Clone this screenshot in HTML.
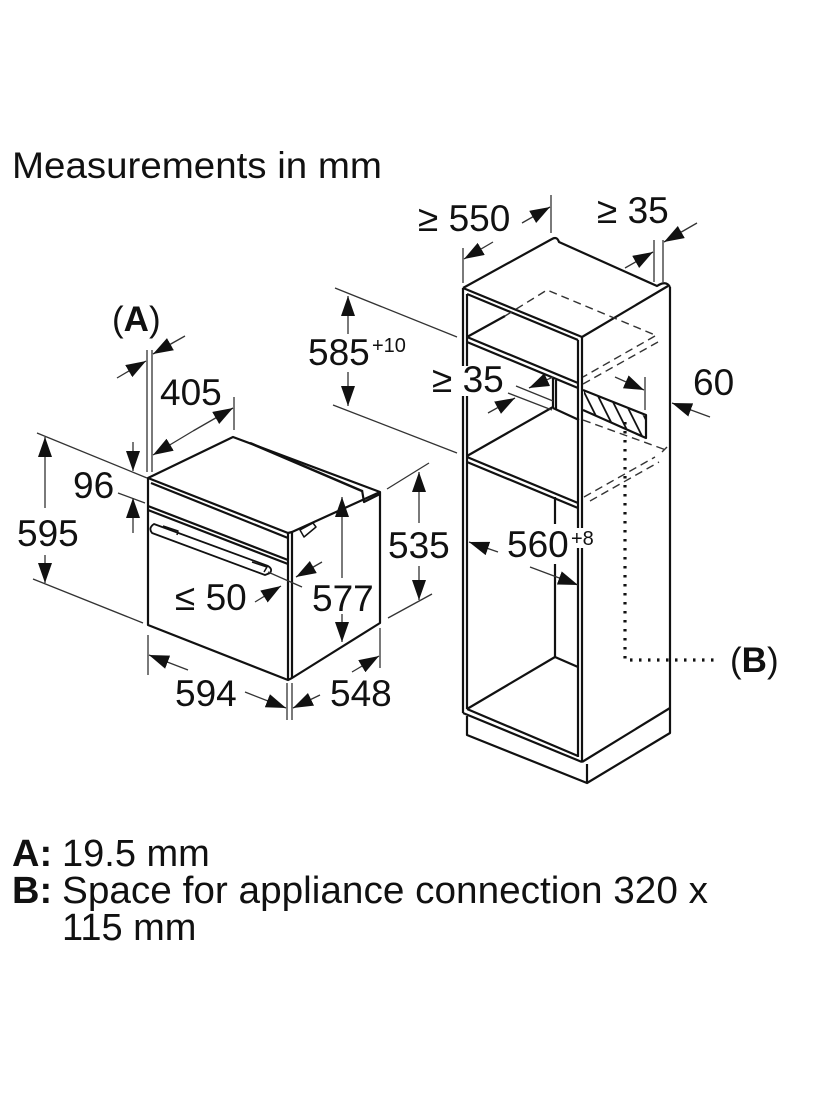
<!DOCTYPE html>
<html><head><meta charset="utf-8"><style>
html,body{margin:0;padding:0;background:#fff;}
svg{display:block;}
text{font-family:"Liberation Sans",Arial,sans-serif;fill:#111;}
</style></head><body>
<svg width="825" height="1100" viewBox="0 0 825 1100" xmlns="http://www.w3.org/2000/svg">
<defs>
<marker id="a" markerUnits="userSpaceOnUse" markerWidth="22" markerHeight="16" refX="20" refY="7" orient="auto"><path d="M0,0 L20,7 L0,14 z" fill="#111"/></marker>
<clipPath id="hc"><polygon points="584,391 645,416 645,437 584,411"/></clipPath>
</defs>
<rect width="825" height="1100" fill="#fff"/>

<!-- Title -->
<text x="12" y="178" font-size="37" textLength="370" lengthAdjust="spacingAndGlyphs">Measurements in mm</text>

<!-- ============ OVEN ============ -->
<g stroke="#111" stroke-width="2.2" fill="none" stroke-linejoin="round">
  <path d="M148,478 L233,437 L380,492 L380,623 L292,678 L288,680 L148,625 Z" fill="#fff"/>
  <path d="M148,478 L288,533 L292,532 L380,492"/>
  <line x1="288" y1="533" x2="288" y2="680"/>
  <line x1="292" y1="532" x2="292" y2="678"/>
  <line x1="151" y1="483" x2="288" y2="538"/>
  <line x1="148" y1="506" x2="288" y2="560"/>
  <line x1="148" y1="510" x2="288" y2="564"/>
  <line x1="250" y1="443" x2="362" y2="491" stroke-width="2.5"/>
  <path d="M362,490 L364,502 L380,494"/>
  <!-- handle -->
  <path d="M154,524 L268,566 Q273,569 270,573 L265,575 L152,533 Q148,528 154,524 Z" stroke-width="1.8"/>
  <path d="M163,526 L178,531 L177,535 M252,562 L267,567 L264,572" stroke-width="1.5"/>
  <!-- bracket -->
  <path d="M300,530 L313,523 L316,527 L304,537 Z" stroke-width="1.5"/>
</g>

<!-- oven dimension / extension lines -->
<g stroke="#333" stroke-width="1.3" fill="none">
  <line x1="37" y1="433" x2="147" y2="478"/>
  <line x1="33" y1="579" x2="143" y2="623"/>
  <line x1="118" y1="493" x2="145" y2="503"/>
  <line x1="147" y1="350" x2="147" y2="472"/>
  <line x1="152" y1="350" x2="152" y2="472"/>
  <line x1="234" y1="397" x2="234" y2="430"/>
  <line x1="148" y1="635" x2="148" y2="675"/>
  <line x1="287" y1="683" x2="287" y2="720"/>
  <line x1="292" y1="683" x2="292" y2="720"/>
  <line x1="380" y1="628" x2="380" y2="668"/>
  <line x1="268" y1="572" x2="302" y2="587"/>

  <line x1="45" y1="508" x2="45" y2="437" marker-end="url(#a)"/>
  <line x1="45" y1="555" x2="45" y2="583" marker-end="url(#a)"/>
  <line x1="133" y1="442" x2="133" y2="471" marker-end="url(#a)"/>
  <line x1="133" y1="533" x2="133" y2="498" marker-end="url(#a)"/>
  <line x1="117" y1="378" x2="146" y2="361" marker-end="url(#a)"/>
  <line x1="185" y1="336" x2="153" y2="354" marker-end="url(#a)"/>
  <line x1="193" y1="431" x2="153" y2="455" marker-end="url(#a)"/>
  <line x1="193" y1="431" x2="233" y2="408" marker-end="url(#a)"/>
  <line x1="188" y1="670" x2="149" y2="655" marker-end="url(#a)"/>
  <line x1="245" y1="692" x2="286" y2="708" marker-end="url(#a)"/>
  <line x1="320" y1="695" x2="293" y2="708" marker-end="url(#a)"/>
  <line x1="352" y1="672" x2="379" y2="656" marker-end="url(#a)"/>
  <line x1="342" y1="578" x2="342" y2="497" marker-end="url(#a)"/>
  <line x1="342" y1="614" x2="342" y2="642" marker-end="url(#a)"/>
  <line x1="255" y1="602" x2="281" y2="586" marker-end="url(#a)"/>
  <line x1="322" y1="562" x2="296" y2="577" marker-end="url(#a)"/>
</g>

<!-- oven labels -->
<text x="112" y="331" font-size="35">(<tspan font-weight="bold">A</tspan>)</text>
<text x="160" y="405" font-size="37">405</text>
<text x="73" y="498" font-size="37">96</text>
<text x="17" y="546" font-size="37">595</text>
<text x="175" y="610" font-size="37">≤ 50</text>
<text x="312" y="611" font-size="37">577</text>
<text x="175" y="706" font-size="37">594</text>
<text x="330" y="706" font-size="37">548</text>

<!-- ============ CABINET ============ -->
<g stroke="#111" stroke-width="2.2" fill="none" stroke-linejoin="round">
  <path d="M463,288 L552,239 Q557,236 559,242 L657,286 Q666,280 670,287"/>
  <line x1="463" y1="288" x2="582" y2="337"/>
  <line x1="582" y1="337" x2="668" y2="286"/>
  <line x1="463" y1="288" x2="463" y2="713"/>
  <line x1="467" y1="294" x2="467" y2="709"/>
  <line x1="582" y1="337" x2="582" y2="762"/>
  <line x1="578" y1="340" x2="578" y2="757"/>
  <line x1="670" y1="287" x2="670" y2="708"/>
  <line x1="467" y1="294" x2="578" y2="340"/>
  <line x1="463" y1="713" x2="582" y2="762"/>
  <line x1="467" y1="709" x2="578" y2="756"/>
  <line x1="582" y1="762" x2="670" y2="708"/>
  <!-- plinth -->
  <path d="M467,716 L467,735 L587,783 L670,733 L670,708"/>
  <line x1="587" y1="764" x2="587" y2="783"/>
  <!-- top shelf -->
  <line x1="467" y1="337" x2="578" y2="383"/>
  <line x1="467" y1="342" x2="578" y2="388"/>
  <line x1="467" y1="337" x2="505" y2="316"/>
  <!-- back panel middle -->
  <line x1="553" y1="378" x2="553" y2="408"/>
  <line x1="556" y1="380" x2="556" y2="409"/>
  <line x1="553" y1="408" x2="579" y2="420"/>
  <!-- middle shelf -->
  <line x1="467" y1="456" x2="553" y2="407"/>
  <line x1="467" y1="457" x2="578" y2="503"/>
  <line x1="467" y1="462" x2="578" y2="508"/>
  <!-- lower compartment -->
  <line x1="555" y1="497" x2="555" y2="524"/>
  <line x1="555" y1="564" x2="555" y2="657"/>
  <line x1="467" y1="709" x2="555" y2="657"/>
  <line x1="555" y1="657" x2="578" y2="667"/>
  <!-- hatch box -->
  <path d="M583,390 L646,415 L646,438 L583,410"/>
  <g clip-path="url(#hc)" stroke-width="1.8">
    <line x1="578" y1="380" x2="608" y2="440"/>
    <line x1="590" y1="380" x2="620" y2="440"/>
    <line x1="602" y1="380" x2="632" y2="440"/>
    <line x1="614" y1="380" x2="644" y2="440"/>
    <line x1="626" y1="380" x2="656" y2="440"/>
    <line x1="638" y1="380" x2="668" y2="440"/>
  </g>
</g>

<!-- hidden dashed lines -->
<g stroke="#333" stroke-width="1.4" fill="none" stroke-dasharray="8 5">
  <path d="M505,316 L547,290 L655,335"/>
  <line x1="655" y1="336" x2="583" y2="377"/>
  <line x1="658" y1="342" x2="583" y2="384"/>
  <line x1="583" y1="420" x2="666" y2="450"/>
  <line x1="584" y1="497" x2="655" y2="457"/>
  <line x1="590" y1="501" x2="659" y2="462"/>
</g>
<path d="M662,452 L667,447" stroke="#333" stroke-width="1.4"/>

<!-- dotted (B) line -->
<path d="M625,422 L625,660 L718,660" stroke="#111" stroke-width="3.2" fill="none" stroke-dasharray="2.5 6.5"/>

<!-- cabinet dimension / extension lines -->
<g stroke="#333" stroke-width="1.3" fill="none">
  <line x1="335" y1="288" x2="457" y2="337"/>
  <line x1="333" y1="405" x2="457" y2="453"/>
  <line x1="387" y1="489" x2="429" y2="463"/>
  <line x1="388" y1="618" x2="432" y2="594"/>
  <line x1="463" y1="248" x2="463" y2="283"/>
  <line x1="551" y1="195" x2="551" y2="233"/>
  <line x1="654" y1="240" x2="654" y2="282"/>
  <line x1="663" y1="240" x2="663" y2="282"/>
  <line x1="516" y1="386" x2="553" y2="401"/>
  <line x1="508" y1="393" x2="552" y2="410"/>
  <line x1="645" y1="377" x2="645" y2="410"/>

  <line x1="522" y1="223" x2="550" y2="207" marker-end="url(#a)"/>
  <line x1="493" y1="242" x2="464" y2="259" marker-end="url(#a)"/>
  <line x1="625" y1="268" x2="653" y2="252" marker-end="url(#a)"/>
  <line x1="697" y1="223" x2="664" y2="242" marker-end="url(#a)"/>
  <line x1="348" y1="334" x2="348" y2="296" marker-end="url(#a)"/>
  <line x1="348" y1="372" x2="348" y2="406" marker-end="url(#a)"/>
  <line x1="553" y1="377" x2="529" y2="388" marker-end="url(#a)"/>
  <line x1="488" y1="413" x2="515" y2="398" marker-end="url(#a)"/>
  <line x1="615" y1="377" x2="644" y2="390" marker-end="url(#a)"/>
  <line x1="710" y1="417" x2="672" y2="403" marker-end="url(#a)"/>
  <line x1="419" y1="523" x2="419" y2="472" marker-end="url(#a)"/>
  <line x1="419" y1="566" x2="419" y2="600" marker-end="url(#a)"/>
  <line x1="498" y1="552" x2="469" y2="542" marker-end="url(#a)"/>
  <line x1="530" y1="567" x2="578" y2="585" marker-end="url(#a)"/>
</g>

<!-- white knockouts behind labels crossing cabinet lines -->
<rect x="455" y="366" width="18" height="30" fill="#fff"/>
<rect x="571" y="528" width="14" height="20" fill="#fff"/>

<!-- cabinet labels -->
<text x="418" y="231" font-size="37">≥ 550</text>
<text x="597" y="223" font-size="37">≥ 35</text>
<text x="308" y="365" font-size="37">585</text>
<text x="372" y="352" font-size="20">+10</text>
<text x="432" y="392" font-size="37">≥ 35</text>
<text x="693" y="395" font-size="37">60</text>
<text x="388" y="558" font-size="37">535</text>
<text x="507" y="557" font-size="37">560</text>
<text x="571" y="545" font-size="20">+8</text>
<text x="730" y="672" font-size="35">(<tspan font-weight="bold">B</tspan>)</text>

<!-- legend -->
<text x="12" y="866" font-size="38" font-weight="bold">A:</text>
<text x="62" y="866" font-size="38">19.5 mm</text>
<text x="12" y="903" font-size="38" font-weight="bold">B:</text>
<text x="62" y="903" font-size="38" textLength="646" lengthAdjust="spacingAndGlyphs">Space for appliance connection 320 x</text>
<text x="62" y="940" font-size="38">115 mm</text>
</svg>
</body></html>
